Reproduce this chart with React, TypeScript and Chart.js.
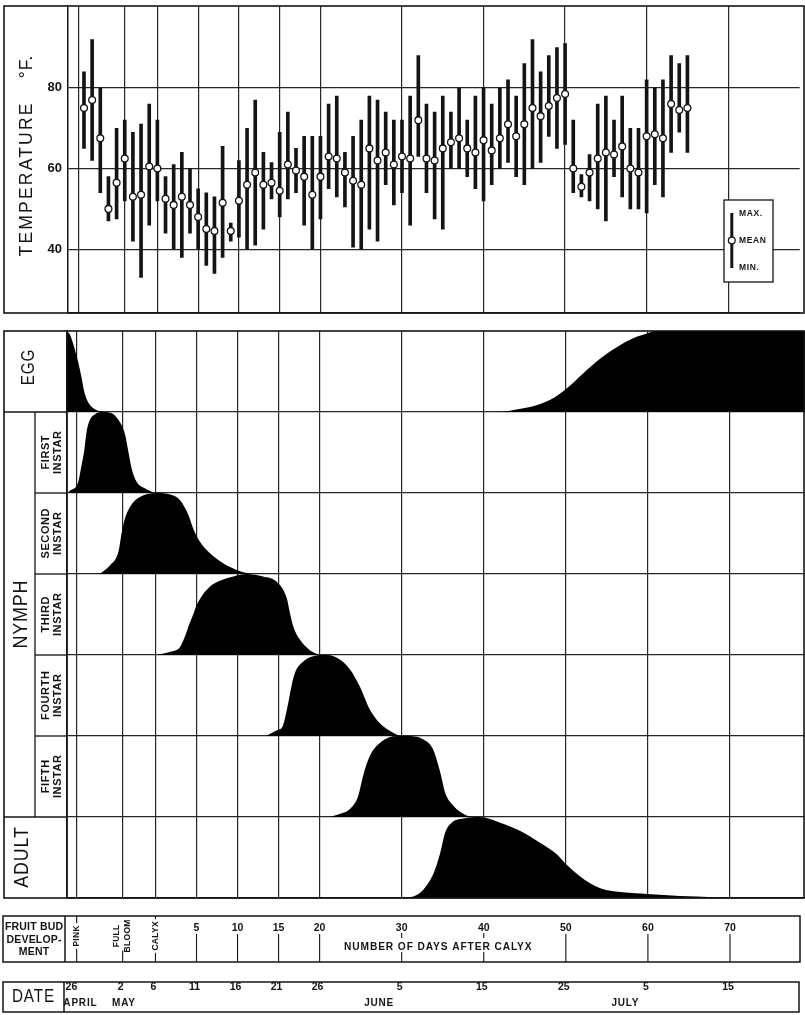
import React, { useEffect, useRef } from "react";
import { Chart, registerables } from "chart.js";

Chart.register(...registerables);

const FONT = '"Liberation Sans", Arial, Helvetica, sans-serif';
const INK = "#141414";
const GRID = "#262626";

// ---------- temperature: one reading per day, days counted from calyx (6 May = day 0) ----------
const FIRST_DAY = -9; // 27 April
const maxTemp = [
  84, 92, 80, 58, 70, 72, 69, 71, 76, 72,
  58, 61, 64, 60, 55, 54, 53, 65.5, 46.5, 62,
  70, 77, 64, 61.5, 69, 74, 65, 68, 68, 68,
  76, 78, 64, 68, 72, 78, 77, 74, 72, 72,
  78, 88, 76, 74, 78, 74, 80, 72, 78, 80,
  76, 80, 82, 78, 86, 92, 84, 88, 90, 91,
  72, 58.5, 63.5, 76, 78, 72, 78, 70, 70, 82,
  80, 82, 88, 86, 88,
];
const meanTemp = [
  75, 77, 67.5, 50, 56.5, 62.5, 53, 53.5, 60.5, 60,
  52.5, 51, 53, 51, 48, 45, 44.5, 51.5, 44.5, 52,
  56, 59, 56, 56.5, 54.5, 61, 59.5, 58, 53.5, 58,
  63, 62.5, 59, 57, 56, 65, 62, 64, 61, 63,
  62.5, 72, 62.5, 62, 65, 66.5, 67.5, 65, 64, 67,
  64.5, 67.5, 71, 68, 71, 75, 73, 75.5, 77.5, 78.5,
  60, 55.5, 59, 62.5, 64, 63.5, 65.5, 60, 59, 68,
  68.5, 67.5, 76, 74.5, 75,
];
const minTemp = [
  65, 62, 54, 47, 47.5, 52, 42, 33, 46, 52,
  44, 40, 38, 44, 40, 36, 34, 38, 42, 43,
  40, 41, 45, 52.5, 48, 52.5, 54, 46, 40, 47.5,
  55, 53, 50.5, 40.5, 40, 45, 42, 56, 51, 54,
  46, 63, 54, 47.5, 45, 60, 60, 58, 55, 52,
  56, 60, 61.5, 58, 56, 60, 61.5, 68, 65, 66,
  54, 53, 52, 50, 47, 58, 53, 50, 50, 49,
  56, 53, 64, 69, 64,
];
const tempTicks = [40, 60, 80];

// vertical rulings (pink, full bloom, calyx, then days after calyx)
const gridDays = [-9.6, -4, 0, 5, 10, 15, 20, 30, 40, 50, 60, 70];

// ---------- stage abundance curves (share of the row height) ----------
const eggDays = [-10.8, -10.45, -10.05, -9.45, -9.0, -8.7, -8.2, -7.6, -6.8, -6.0, 42.0, 44.0, 46.0, 48.1, 50.1, 52.1, 54.2, 56.2, 58.2, 60.2, 60.7, 79.5];
const eggLevels = [1.0, 0.96, 0.85, 0.63, 0.42, 0.26, 0.12, 0.05, 0.01, 0, 0, 0.03, 0.07, 0.15, 0.29, 0.475, 0.66, 0.8, 0.91, 0.98, 1.0, 1.0];

const firstDays = [-10.8, -10.4, -9.4, -9.0, -8.7, -8.4, -8.0, -7.4, -6.6, -5.5, -4.5, -3.7, -3.3, -2.9, -2.3, -1.3, -0.1];
const firstLevels = [0, 0.03, 0.14, 0.35, 0.51, 0.75, 0.9, 0.97, 1.0, 0.99, 0.9, 0.72, 0.51, 0.3, 0.14, 0.06, 0];

const secondDays = [-6.8, -5.5, -4.5, -4.1, -3.7, -3.1, -1.9, 0.15, 1.8, 3.0, 4.0, 4.6, 5.4, 6.6, 8.3, 9.9, 11.5];
const secondLevels = [0, 0.11, 0.28, 0.52, 0.69, 0.83, 0.95, 1.0, 0.98, 0.91, 0.73, 0.56, 0.4, 0.26, 0.13, 0.05, 0];

const thirdDays = [0.15, 1.8, 3.0, 3.6, 4.0, 4.6, 5.0, 5.8, 6.6, 7.5, 9.5, 11.1, 13.1, 14.8, 16.0, 16.4, 16.8, 17.6, 18.8, 20.0];
const thirdLevels = [0, 0.04, 0.1, 0.23, 0.35, 0.5, 0.61, 0.75, 0.84, 0.9, 0.97, 1.0, 0.97, 0.9, 0.7, 0.51, 0.35, 0.19, 0.06, 0];

const fourthDays = [13.5, 14.8, 15.5, 16.1, 16.6, 17.0, 17.8, 19.4, 20.9, 22.5, 23.7, 24.9, 26.1, 27.4, 28.8, 29.8];
const fourthLevels = [0, 0.07, 0.12, 0.37, 0.63, 0.78, 0.9, 0.99, 1.0, 0.94, 0.82, 0.61, 0.33, 0.15, 0.05, 0];

const fifthDays = [21.2, 22.5, 23.7, 24.7, 25.3, 26.1, 27.4, 29.4, 30.6, 32.6, 33.8, 34.7, 35.3, 36.3, 37.9, 39.1];
const fifthLevels = [0, 0.04, 0.1, 0.26, 0.51, 0.75, 0.92, 1.0, 1.0, 0.96, 0.84, 0.55, 0.3, 0.14, 0.02, 0];

const adultDays = [29.8, 31.4, 32.6, 33.9, 34.7, 35.3, 36.1, 37.5, 39.5, 42.0, 44.4, 46.9, 48.9, 50.1, 51.7, 54.2, 57.0, 59.9, 63.9, 68.0, 69.6];
const adultLevels = [0, 0.02, 0.1, 0.31, 0.56, 0.81, 0.93, 0.98, 1.0, 0.93, 0.83, 0.68, 0.54, 0.41, 0.27, 0.12, 0.07, 0.05, 0.025, 0.01, 0];

const instarNames = ["FIRST", "SECOND", "THIRD", "FOURTH", "FIFTH"];

// ---------- lower scales ----------
const budStageDays = [-9.6, -4, 0];
const budStageLabels = [["PINK"], ["FULL", "BLOOM"], ["CALYX"]];
const calyxDayTicks = [5, 10, 15, 20, 30, 40, 50, 60, 70];
const calyxAxisTitle = "NUMBER OF DAYS AFTER CALYX";
const calyxAxisTitleDay = 34.4;
const dateTickDays = [-10, -4, 0, 5, 10, 15, 20, 30, 40, 50, 60, 70];
const dateTickLabels = ["26", "2", "6", "11", "16", "21", "26", "5", "15", "25", "5", "15"];
const monthLabels = ["APRIL", "MAY", "JUNE", "JULY"];
const monthDays = [-9.2, -3.9, 27.2, 57.2];

type TOpts = { size: number; weight?: string; rot?: boolean; sx?: number; ls?: number; align?: CanvasTextAlign };

function drawText(ctx: CanvasRenderingContext2D, s: string, x: number, y: number, o: TOpts) {
  ctx.save();
  ctx.translate(x, y);
  if (o.rot) ctx.rotate(-Math.PI / 2);
  if (o.sx) ctx.scale(o.sx, 1);
  ctx.font = `${o.weight || "normal"} ${o.size}px ${FONT}`;
  (ctx as any).letterSpacing = `${o.ls || 0}px`;
  const align = o.align || "center";
  ctx.textAlign = align;
  ctx.textBaseline = "middle";
  ctx.fillStyle = INK;
  ctx.fillText(s, align === "center" ? (o.ls || 0) / 2 : 0, 0);
  ctx.restore();
}

function textLen(ctx: CanvasRenderingContext2D, s: string, o: TOpts) {
  ctx.save();
  ctx.font = `${o.weight || "normal"} ${o.size}px ${FONT}`;
  (ctx as any).letterSpacing = `${o.ls || 0}px`;
  const w = ctx.measureText(s).width * (o.sx || 1);
  ctx.restore();
  return w;
}

function seg(ctx: CanvasRenderingContext2D, x1: number, y1: number, x2: number, y2: number, w = 1.3) {
  ctx.save();
  ctx.strokeStyle = INK;
  ctx.lineWidth = w;
  ctx.beginPath();
  ctx.moveTo(x1, y1);
  ctx.lineTo(x2, y2);
  ctx.stroke();
  ctx.restore();
}

const topDecor = {
  id: "topDecor",
  afterDraw(chart: any) {
    const ctx: CanvasRenderingContext2D = chart.ctx;
    const a = chart.chartArea;
    ctx.save();
    ctx.strokeStyle = INK;
    ctx.lineWidth = 1.6;
    ctx.strokeRect(4, a.top, 804 - 4, a.bottom - a.top);
    drawText(ctx, "TEMPERATURE", 27, 180, { size: 17.5, rot: true, ls: 2.2 });
    drawText(ctx, "°F.", 27, 67, { size: 17.5, rot: true, ls: 1 });
    // key
    const lx = 724, ly = 200, lw = 49, lh = 82;
    ctx.fillStyle = "#fff";
    ctx.fillRect(lx, ly, lw, lh);
    ctx.lineWidth = 1.3;
    ctx.strokeRect(lx, ly, lw, lh);
    ctx.fillStyle = INK;
    ctx.fillRect(730.3, 213, 3, 55);
    ctx.beginPath();
    ctx.arc(731.8, 240.5, 3.4, 0, Math.PI * 2);
    ctx.fillStyle = "#fff";
    ctx.fill();
    ctx.lineWidth = 1.3;
    ctx.stroke();
    const ko: TOpts = { size: 8.5, weight: "bold", align: "left", ls: 0.6 };
    drawText(ctx, "MAX.", 739, 213.5, ko);
    drawText(ctx, "MEAN", 739, 241, ko);
    drawText(ctx, "MIN.", 739, 268, ko);
    ctx.restore();
  },
};

const OFF = 320; // page y of the lower canvas

const bottomDecor = {
  id: "bottomDecor",
  afterDraw(chart: any) {
    const ctx: CanvasRenderingContext2D = chart.ctx;
    const a = chart.chartArea;
    const xs = chart.scales.x;
    const ys = chart.scales.y;
    const L = 4, R = 804;
    const rowY = (k: number) => ys.getPixelForValue(k);
    ctx.save();
    ctx.strokeStyle = INK;
    ctx.lineWidth = 1.6;
    ctx.strokeRect(L, a.top, R - L, a.bottom - a.top);
    seg(ctx, a.left, a.top, a.left, a.bottom, 1.5);
    const eggBottom = rowY(6);
    const adultTop = rowY(1);
    seg(ctx, L, eggBottom, a.left, eggBottom);
    seg(ctx, L, adultTop, a.left, adultTop);
    seg(ctx, 35, eggBottom, 35, adultTop);
    [2, 3, 4, 5].forEach((k) => seg(ctx, 35, rowY(k), a.left, rowY(k)));
    drawText(ctx, "EGG", 29, (rowY(7) + rowY(6)) / 2 - 4, { size: 18, rot: true, sx: 0.85, ls: 1 });
    drawText(ctx, "NYMPH", 21, (eggBottom + adultTop) / 2, { size: 21, rot: true, sx: 0.85, ls: 1 });
    drawText(ctx, "ADULT", 22, (rowY(1) + rowY(0)) / 2, { size: 21, rot: true, sx: 0.85, ls: 1 });
    instarNames.forEach((name, i) => {
      const base = 5 - i;
      const cy = (rowY(base) + rowY(base + 1)) / 2;
      drawText(ctx, name, 45.5, cy, { size: 11, weight: "bold", rot: true, ls: 0.6 });
      drawText(ctx, "INSTAR", 57.5, cy, { size: 11, weight: "bold", rot: true, ls: 0.6 });
    });

    // fruit bud development box
    const fbTop = 916 - OFF, fbBot = 962 - OFF;
    ctx.lineWidth = 1.5;
    ctx.strokeRect(3, fbTop, 800 - 3, fbBot - fbTop);
    seg(ctx, 65, fbTop, 65, fbBot, 1.5);
    const lo: TOpts = { size: 10.5, weight: "bold", ls: 0.2 };
    drawText(ctx, "FRUIT BUD", 34, 927 - OFF, lo);
    drawText(ctx, "DEVELOP-", 34, 940 - OFF, lo);
    drawText(ctx, "MENT", 34, 952.5 - OFF, lo);

    const so: TOpts = { size: 8.5, weight: "bold", rot: true, ls: 0.3 };
    budStageDays.forEach((d, i) => {
      const x = xs.getPixelForValue(d);
      const lines = budStageLabels[i];
      const cy = 936 - OFF;
      const len = Math.max(...lines.map((s) => textLen(ctx, s, so)));
      if (lines.length === 1) {
        drawText(ctx, lines[0], x, cy, so);
        seg(ctx, x, fbTop, x, cy - len / 2 - 2, 1.1);
        seg(ctx, x, cy + len / 2 + 2, x, fbBot, 1.1);
      } else {
        lines.forEach((s, j) => drawText(ctx, s, x + (j - (lines.length - 1) / 2) * 11, cy, so));
        seg(ctx, x, cy + len / 2 - 2, x, fbBot, 1.1);
      }
    });

    const no: TOpts = { size: 10.5, weight: "bold" };
    const tOpts: TOpts = { size: 10.2, weight: "bold", ls: 0.9 };
    const tCx = xs.getPixelForValue(calyxAxisTitleDay);
    const tW = textLen(ctx, calyxAxisTitle, tOpts);
    const tY = 947 - OFF;
    drawText(ctx, calyxAxisTitle, tCx, tY, tOpts);
    calyxDayTicks.forEach((d) => {
      const x = xs.getPixelForValue(d);
      drawText(ctx, String(d), x, 928.5 - OFF, no);
      if (x > tCx - tW / 2 - 4 && x < tCx + tW / 2 + 4) {
        seg(ctx, x, 933 - OFF, x, 938 - OFF, 1.1);
        seg(ctx, x, 952 - OFF, x, fbBot, 1.1);
      } else {
        seg(ctx, x, 934 - OFF, x, fbBot, 1.1);
      }
    });

    // date box
    const dTop = 982 - OFF, dBot = 1012 - OFF;
    ctx.lineWidth = 1.5;
    ctx.strokeRect(3, dTop, 799 - 3, dBot - dTop);
    seg(ctx, 64, dTop, 64, dBot, 1.5);
    drawText(ctx, "DATE", 33, 997 - OFF, { size: 18, sx: 0.85, ls: 1 });
    dateTickDays.forEach((d, i) => {
      drawText(ctx, dateTickLabels[i], xs.getPixelForValue(d) - 2, 987 - OFF, no);
    });
    monthLabels.forEach((m, i) => {
      drawText(ctx, m, xs.getPixelForValue(monthDays[i]), 1003.7 - OFF, { size: 10, weight: "bold", ls: 0.8 });
    });
    ctx.restore();
  },
};

function gridScale(extra: any) {
  return {
    type: "linear",
    offset: false,
    grid: { offset: false, color: GRID, lineWidth: 1.2, drawTicks: false },
    border: { display: true, color: INK, width: 1.5 },
    ...extra,
  };
}

export default function App() {
  const topRef = useRef<HTMLCanvasElement>(null);
  const botRef = useRef<HTMLCanvasElement>(null);

  useEffect(() => {
    const days = meanTemp.map((_, i) => FIRST_DAY + i);
    const top = new Chart(topRef.current as HTMLCanvasElement, {
      type: "bar",
      data: {
        datasets: [
          {
            type: "scatter",
            data: days.map((d, i) => ({ x: d, y: meanTemp[i] })),
            pointRadius: 3.4,
            pointBackgroundColor: "#ffffff",
            pointBorderColor: INK,
            pointBorderWidth: 1.3,
            order: 0,
          } as any,
          {
            type: "bar",
            data: days.map((d, i) => ({ x: d, y: [minTemp[i], maxTemp[i]] })),
            backgroundColor: INK,
            borderWidth: 0,
            barThickness: 3,
            order: 1,
          } as any,
        ],
      },
      options: {
        animation: false,
        responsive: false,
        events: [],
        layout: { padding: { left: 0, top: 6, right: 0, bottom: 7 } },
        plugins: { legend: { display: false }, tooltip: { enabled: false } },
        scales: {
          x: gridScale({
            min: -10.96,
            max: 78.77,
            ticks: { display: false },
            afterBuildTicks: (s: any) => {
              s.ticks = gridDays.map((v) => ({ value: v }));
            },
            afterFit: (s: any) => {
              s.height = 0;
              s.paddingLeft = 0;
              s.paddingRight = 0;
            },
          }),
          y: gridScale({
            min: 24.2,
            max: 100.3,
            ticks: { color: INK, padding: 6, font: { family: FONT, size: 13, weight: "bold" } },
            afterBuildTicks: (s: any) => {
              s.ticks = tempTicks.map((v) => ({ value: v }));
            },
            afterFit: (s: any) => {
              s.width = 68;
              s.paddingTop = 0;
              s.paddingBottom = 0;
            },
          }),
        } as any,
      },
      plugins: [topDecor],
    });

    const stages = [
      { base: 6, d: eggDays, v: eggLevels },
      { base: 5, d: firstDays, v: firstLevels },
      { base: 4, d: secondDays, v: secondLevels },
      { base: 3, d: thirdDays, v: thirdLevels },
      { base: 2, d: fourthDays, v: fourthLevels },
      { base: 1, d: fifthDays, v: fifthLevels },
      { base: 0, d: adultDays, v: adultLevels },
    ];
    const bottom = new Chart(botRef.current as HTMLCanvasElement, {
      type: "line",
      data: {
        datasets: stages.map((st) => ({
          data: st.d.map((x, i) => ({ x, y: st.base + st.v[i] })),
          fill: { value: st.base },
          backgroundColor: "#000",
          borderColor: "#000",
          borderWidth: 0,
          pointRadius: 0,
          cubicInterpolationMode: "monotone",
        })) as any,
      },
      options: {
        animation: false,
        responsive: false,
        events: [],
        layout: { padding: { left: 67, top: 11, right: 0, bottom: 117 } },
        plugins: { legend: { display: false }, tooltip: { enabled: false } },
        scales: {
          x: gridScale({
            min: -10.78,
            max: 79.14,
            ticks: { display: false },
            afterBuildTicks: (s: any) => {
              s.ticks = gridDays.map((v) => ({ value: v }));
            },
            afterFit: (s: any) => {
              s.height = 0;
              s.paddingLeft = 0;
              s.paddingRight = 0;
            },
          }),
          y: gridScale({
            min: 0,
            max: 7,
            ticks: { display: false },
            afterBuildTicks: (s: any) => {
              s.ticks = [1, 2, 3, 4, 5, 6].map((v) => ({ value: v }));
            },
            afterFit: (s: any) => {
              s.width = 0;
              s.paddingTop = 0;
              s.paddingBottom = 0;
            },
          }),
        } as any,
      },
      plugins: [bottomDecor],
    });

    return () => {
      top.destroy();
      bottom.destroy();
    };
  }, []);

  return (
    <div style={{ position: "absolute", left: 0, top: 0, width: 805, height: 1015, background: "#fff", overflow: "hidden" }}>
      <canvas ref={topRef} width={805} height={320} style={{ position: "absolute", left: 0, top: 0, width: 805, height: 320 }} />
      <canvas ref={botRef} width={805} height={695} style={{ position: "absolute", left: 0, top: OFF, width: 805, height: 695 }} />
    </div>
  );
}
